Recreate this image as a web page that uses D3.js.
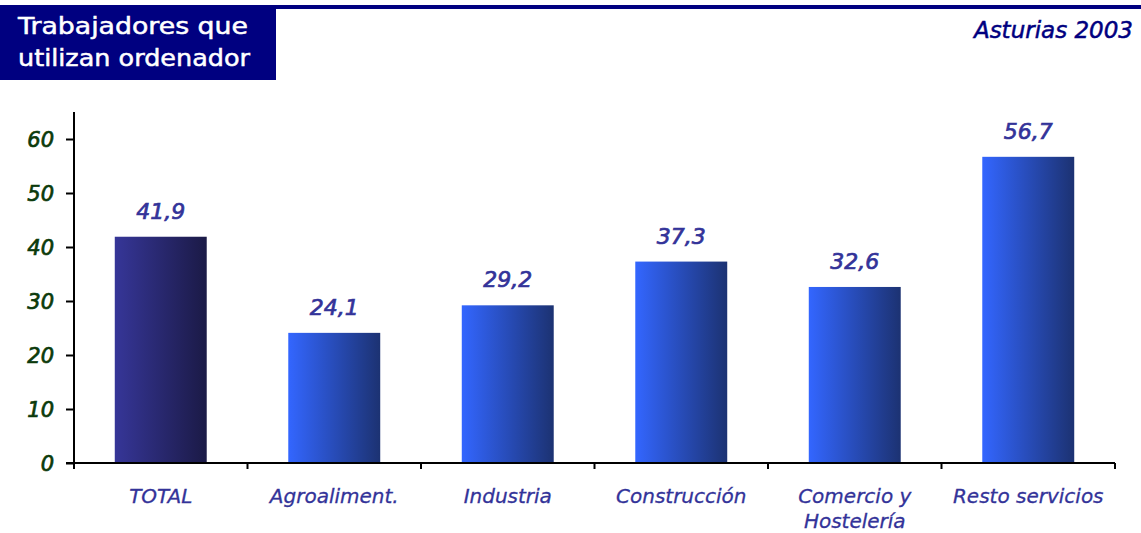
<!DOCTYPE html>
<html><head><meta charset="utf-8">
<script src="https://cdn.jsdelivr.net/npm/d3@7"></script>
<style>body{margin:0;background:#fff}svg{display:block}</style>
</head><body>
<script>
const categories = ["TOTAL","Agroaliment.","Industria","Construcción","Comercio y\nHostelería","Resto servicios"];
const values = [41.9,24.1,29.2,37.3,32.6,56.7];
const yTicks = [0,10,20,30,40,50,60];
const titleLines = ["Trabajadores que","utilizan ordenador"];
const subtitle = "Asturias 2003";

const W=1141,H=533;
const svg=d3.select("body").append("svg").attr("width",W).attr("height",H);
const font="'DejaVu Sans', Verdana, sans-serif";
const defs=svg.append("defs");
const g1=defs.append("linearGradient").attr("id","gTotal");
g1.append("stop").attr("offset","0%").attr("stop-color","#363698");
g1.append("stop").attr("offset","100%").attr("stop-color","#1b1a46");
const g2=defs.append("linearGradient").attr("id","gOther");
g2.append("stop").attr("offset","0%").attr("stop-color","#3366ff");
g2.append("stop").attr("offset","100%").attr("stop-color","#1c3272");

// header
svg.append("rect").attr("x",0).attr("y",5).attr("width",W).attr("height",4).attr("fill","#000080");
svg.append("rect").attr("x",0).attr("y",5).attr("width",276).attr("height",75).attr("fill","#000080");
const tl=[230,232];
svg.selectAll("text.title").data(titleLines).join("text").attr("class","title")
  .attr("x",18).attr("y",(d,i)=>34+i*32).attr("fill","#fff").attr("stroke","#fff").attr("stroke-width",0.5)
  .attr("font-family",font).attr("font-size",23)
  .attr("textLength",(d,i)=>tl[i]).attr("lengthAdjust","spacingAndGlyphs").text(d=>d);
svg.append("text").attr("x",1133).attr("y",38).attr("text-anchor","end").attr("fill","#000080")
  .attr("stroke","#000080").attr("stroke-width",0.5)
  .attr("font-family",font).attr("font-style","italic").attr("font-size",23).text(subtitle);

const x0=74,x1=1115,yb=463;
const x=d3.scaleBand().domain(categories).range([x0,x1]).paddingInner(0.47).paddingOuter(0.235);
const y=d3.scaleLinear().domain([0,65]).range([yb,112]);

svg.selectAll("rect.bar").data(values).join("rect").attr("class","bar")
  .attr("x",(d,i)=>x(categories[i])).attr("width",x.bandwidth())
  .attr("y",d=>y(d)).attr("height",d=>yb-y(d))
  .attr("fill",(d,i)=>i===0?"url(#gTotal)":"url(#gOther)");

svg.selectAll("text.val").data(values).join("text").attr("class","val")
  .attr("x",(d,i)=>x(categories[i])+x.bandwidth()/2).attr("y",d=>y(d)-18)
  .attr("text-anchor","middle").attr("fill","#333399").attr("stroke","#333399").attr("stroke-width",0.7)
  .attr("font-family",font).attr("font-style","italic").attr("font-size",22).text(d=>String(d).replace(".",","));

// y axis
const yAxis=svg.append("g").attr("transform",`translate(${x0},0)`)
  .call(d3.axisLeft(y).tickValues(yTicks).tickSize(8).tickPadding(12));
yAxis.select(".domain").attr("d",`M0,112V469`).attr("stroke","#000").attr("stroke-width",2);
yAxis.selectAll(".tick line").attr("stroke","#000").attr("stroke-width",2);
yAxis.selectAll(".tick text").attr("fill","#0b3a0b").attr("stroke","#0b3a0b").attr("stroke-width",0.7)
  .attr("font-family",font).attr("font-style","italic").attr("font-size",21).attr("dy","0.35em");

// x axis
const xg=svg.append("g");
xg.append("line").attr("x1",66).attr("x2",x1).attr("y1",yb).attr("y2",yb).attr("stroke","#000").attr("stroke-width",2);
const step=x.step();
xg.selectAll("line.t").data(d3.range(1,categories.length+1)).join("line").attr("class","t")
  .attr("x1",i=>x0+i*step).attr("x2",i=>x0+i*step).attr("y1",yb).attr("y2",yb+6)
  .attr("stroke","#000").attr("stroke-width",2);
const lab=xg.selectAll("text.cat").data(categories).join("text").attr("class","cat")
  .attr("text-anchor","middle").attr("fill","#333399").attr("stroke","#333399").attr("stroke-width",0.3)
  .attr("font-family",font).attr("font-style","italic").attr("font-size",20);
lab.each(function(d){
  const cx=x(d)+x.bandwidth()/2;
  d3.select(this).selectAll("tspan").data(d.split("\n")).join("tspan").attr("x",cx).attr("y",(t,i)=>503+i*25).text(t=>t);
});
</script>
</body></html>
